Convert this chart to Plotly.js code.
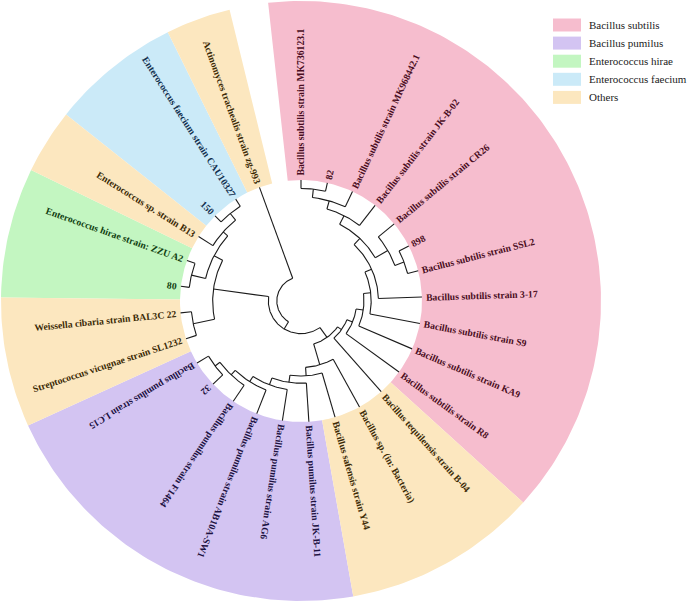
<!DOCTYPE html>
<html><head><meta charset="utf-8">
<script src="https://cdn.plot.ly/plotly-3.0.1.min.js"></script>
<style>html,body{margin:0;padding:0;background:#fff}#chart{width:694px;height:603px}</style>
</head><body><div id="chart"></div>
<script>
// ---------- DATA ----------
// Leaves (tips) in clockwise order, starting at the top of the circle
const leafNames = [
  "Bacillus subtilis strain MK736123.1", "82", "Bacillus subtilis strain MK968442.1",
  "Bacillus subtilis strain JK-B-02", "Bacillus subtilis strain CR26", "898",
  "Bacillus subtilis strain SSL2", "Bacillus subtilis strain 3-17", "Bacillus subtilis strain S9",
  "Bacillus subtilis strain KA9", "Bacillus subtilis strain R8", "Bacillus tequilensis strain B-04",
  "Bacillus sp. (in: Bacteria)", "Bacillus safensis strain Y44", "Bacillus pumilus strain JK-B-11",
  "Bacillus pumilus strain AG6", "Bacillus pumilus strain AB10A-SW1", "Bacillus pumilus strain F1464",
  "32", "Bacillus pumilus strain LC15", "Streptococcus vicugnae strain SL1232",
  "Weissella cibaria strain BAL3C 22", "80", "Enterococcus hirae strain: ZZU A2",
  "Enterococcus sp. strain B13", "150", "Enterococcus faecium strain CAU10327",
  "Actinomyces trachealis strain zg-993"
];
const leafGroups = [
  "Bacillus subtilis","Bacillus subtilis","Bacillus subtilis","Bacillus subtilis","Bacillus subtilis",
  "Bacillus subtilis","Bacillus subtilis","Bacillus subtilis","Bacillus subtilis","Bacillus subtilis",
  "Bacillus subtilis","Others","Others","Others","Bacillus pumilus","Bacillus pumilus",
  "Bacillus pumilus","Bacillus pumilus","Bacillus pumilus","Bacillus pumilus","Others","Others",
  "Enterococcus hirae","Enterococcus hirae","Others","Enterococcus faecium","Enterococcus faecium","Others"
];
// Internal nodes: children ("L<i>" = leaf i) and depth from centre (tips = 1)
const nodeNames = ["root","N1","Ent","n2021","nX","n2223","n24","n2526",
  "Bac","S","nE","nD","nC","nB","nA","n0123","n012","n01","n456","n56",
  "P","P13","P14","P15","P16","P17","P18"];
const nodeChildren = [
  ["L27","N1"], ["Ent","Bac"], ["n2021","nX"], ["L20","L21"], ["n2223","n24"], ["L22","L23"],
  ["L24","n2526"], ["L25","L26"],
  ["S","P"], ["nE","L11"], ["nD","L10"], ["nC","L9"], ["nB","L8"], ["nA","L7"], ["n0123","n456"],
  ["n012","L3"], ["n01","L2"], ["L0","L1"], ["L4","n56"], ["L5","L6"],
  ["L12","P13"], ["L13","P14"], ["L14","P15"], ["L15","P16"], ["L16","P17"], ["L17","P18"], ["L18","L19"]
];
const nodeDepth = [
  0.20, 0.27, 0.73, 0.91, 0.81, 0.93, 0.86, 0.93,
  0.37, 0.41, 0.46, 0.52, 0.58, 0.64, 0.71, 0.79, 0.86, 0.93, 0.83, 0.91,
  0.55, 0.62, 0.68, 0.74, 0.79, 0.84, 0.89
];
const legendNames = ["Bacillus subtilis","Bacillus pumilus","Enterococcus hirae","Enterococcus faecium","Others"];

// ---------- STYLE / LAYOUT ----------
const groupFill = {
  "Bacillus subtilis":"#F6BDCE", "Bacillus pumilus":"#D3C4F2", "Enterococcus hirae":"#C3F6C1",
  "Enterococcus faecium":"#CBEAF8", "Others":"#FCE7BF"
};
const groupText = {
  "Bacillus subtilis":"#4a0d22", "Bacillus pumilus":"#1d1242", "Enterococcus hirae":"#113f11",
  "Enterococcus faecium":"#12304f", "Others":"#3b2a06"
};
const CX = 301, CY = 301, R_TIP = 121, R_OUT = 300, A0 = 90, STEP = 12.59, GAP = 4;
const LABEL_FONT = "Liberation Serif", LABEL_SIZE = 9.7;

const rad = d => d * Math.PI / 180;
const X = (r, a) => CX + r * Math.cos(rad(a));
const Y = (r, a) => CY - r * Math.sin(rad(a));
const leafAngle = i => A0 - i * STEP;
const isLeaf = id => /^L\d+$/.test(id);
const nodeIdx = {}; nodeNames.forEach((n, i) => nodeIdx[n] = i);

function place(id) {
  if (isLeaf(id)) return { a: leafAngle(+id.slice(1)), r: R_TIP };
  const k = nodeIdx[id];
  const ch = nodeChildren[k].map(place);
  const as = ch.map(c => c.a);
  return { a: (Math.min(...as) + Math.max(...as)) / 2, r: nodeDepth[k] * R_TIP, ch };
}

// branch segments
const bx = [], by = [];
function arcPts(r, a1, a2, xs, ys) {
  const n = Math.max(2, Math.ceil(Math.abs(a2 - a1)));
  for (let j = 0; j <= n; j++) { const a = a1 + (a2 - a1) * j / n; xs.push(X(r, a)); ys.push(Y(r, a)); }
}
function drawNode(p) {
  if (!p.ch) return;
  const as = p.ch.map(c => c.a);
  arcPts(p.r, Math.min(...as), Math.max(...as), bx, by); bx.push(null); by.push(null);
  p.ch.forEach(c => {
    bx.push(X(p.r, c.a), X(c.r, c.a), null); by.push(Y(p.r, c.a), Y(c.r, c.a), null);
    drawNode(c);
  });
}
drawNode(place("root"));

// coloured sectors (one trace per group, runs of consecutive leaves)
const sectors = {}; legendNames.forEach(g => sectors[g] = { x: [], y: [] });
let s = 0;
for (let i = 1; i <= leafNames.length; i++) {
  if (i === leafNames.length || leafGroups[i] !== leafGroups[s]) {
    const g = leafGroups[s];
    const a1 = leafAngle(s) + STEP / 2, a2 = leafAngle(i - 1) - STEP / 2;
    const xs = sectors[g].x, ys = sectors[g].y;
    arcPts(R_TIP, a1, a2, xs, ys); arcPts(R_OUT, a2, a1, xs, ys);
    xs.push(null); ys.push(null);
    s = i;
  }
}
const traces = legendNames.map(g => ({
  type: "scatter", mode: "lines", x: sectors[g].x, y: sectors[g].y, fill: "toself",
  fillcolor: groupFill[g], line: { width: 0, color: groupFill[g] }, hoverinfo: "skip", showlegend: false
}));
traces.push({ type: "scatter", mode: "lines", x: bx, y: by, line: { color: "#1b1b1b", width: 1.1 },
  hoverinfo: "skip", showlegend: false });

// labels
const ctx = document.createElement("canvas").getContext("2d");
ctx.font = `bold ${LABEL_SIZE}px "${LABEL_FONT}"`;
const annotations = leafNames.map((name, i) => {
  const a = leafAngle(i);
  const a360 = ((a % 360) + 360) % 360;
  const flip = a360 > 90.5 && a360 < 205;
  const w = ctx.measureText(name).width;
  const rc = R_TIP + GAP + w / 2;
  return {
    x: X(rc, a), y: Y(rc, a), xref: "x", yref: "y", text: "<b>" + name + "</b>", showarrow: false,
    xanchor: "center", yanchor: "middle", textangle: flip ? 180 - a : -a,
    font: { family: LABEL_FONT, size: LABEL_SIZE, color: groupText[leafGroups[i]] }, borderpad: 0
  };
});

// legend (drawn manually)
const shapes = [];
legendNames.forEach((g, k) => {
  const yc = 25 + k * 18.1;
  shapes.push({ type: "rect", xref: "x", yref: "y", x0: 553, x1: 581, y0: yc - 6.5, y1: yc + 6.5,
    fillcolor: groupFill[g], line: { width: 0 } });
  annotations.push({ x: 587, y: yc, xref: "x", yref: "y", text: g, showarrow: false, xanchor: "left",
    yanchor: "middle", font: { family: LABEL_FONT, size: 11, color: "#222" } });
});

const layout = {
  width: 694, height: 603, margin: { l: 0, r: 0, t: 0, b: 0 },
  paper_bgcolor: "#fff", plot_bgcolor: "#fff", showlegend: false,
  xaxis: { range: [0, 694], visible: false, fixedrange: true },
  yaxis: { range: [603, 0], visible: false, fixedrange: true },
  annotations, shapes
};
Plotly.newPlot("chart", traces, layout, { staticPlot: true, displayModeBar: false });
</script></body></html>
